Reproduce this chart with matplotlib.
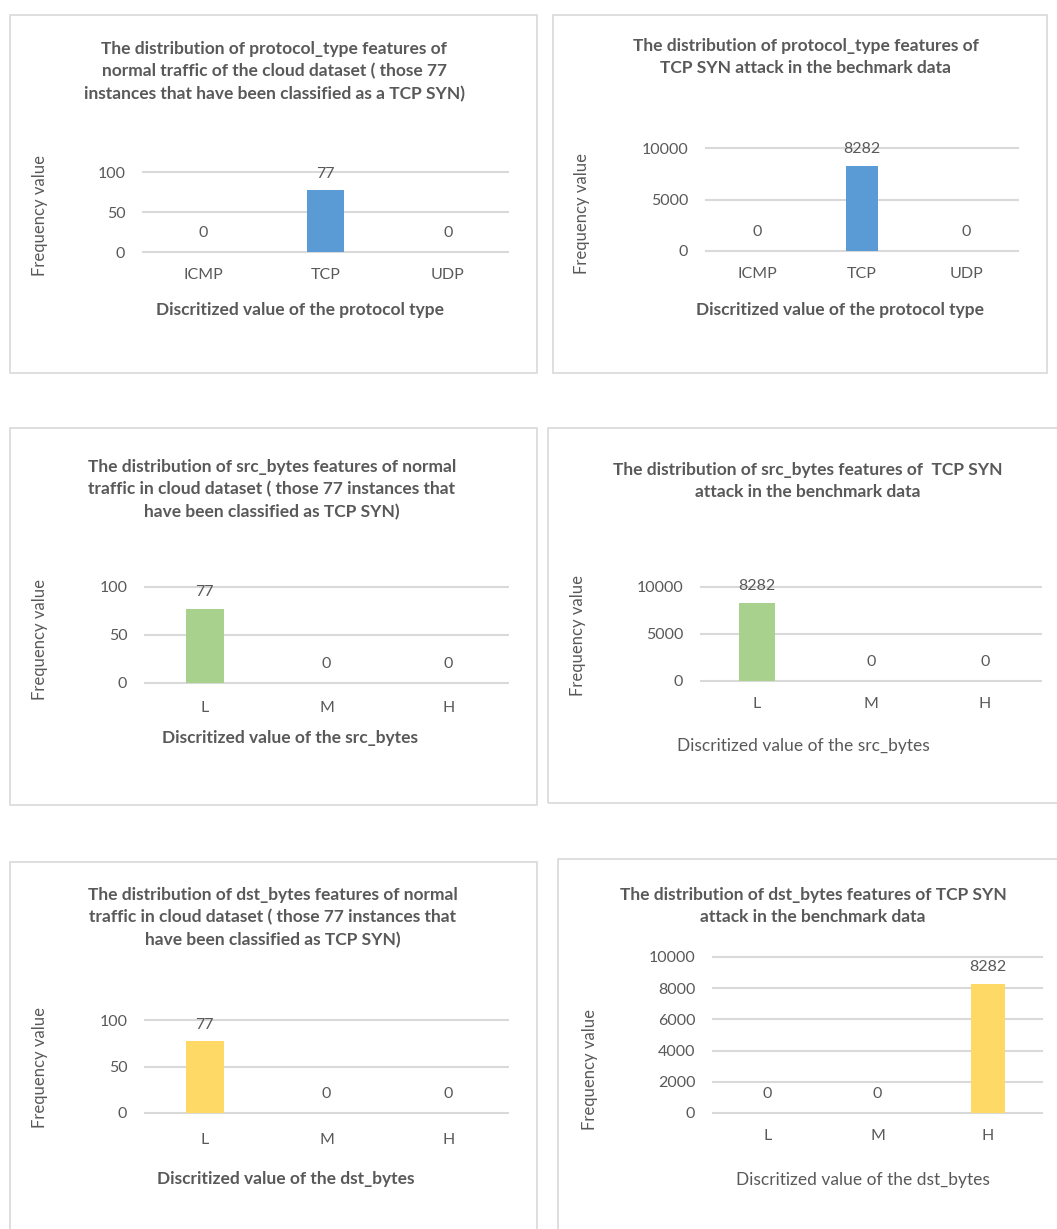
import matplotlib
matplotlib.use("Agg")
import matplotlib.pyplot as plt
from matplotlib.patches import Rectangle

# valores das seis distribuições
protocol_labels = ["ICMP", "TCP", "UDP"]
bytes_labels = ["L", "M", "H"]

cloud_protocol = [0, 77, 0]
bench_protocol = [0, 8282, 0]
cloud_src = [77, 0, 0]
bench_src = [8282, 0, 0]
cloud_dst = [77, 0, 0]
bench_dst = [0, 0, 8282]

titles = [
    "The distribution of protocol_type features of\nnormal traffic of the cloud dataset ( those 77\ninstances that have been classified as a TCP SYN)",
    "The distribution of protocol_type features of\nTCP SYN attack in the bechmark data",
    "The distribution of src_bytes features of normal\ntraffic in cloud dataset ( those 77 instances that\nhave been classified as TCP SYN)",
    "The distribution of src_bytes features of  TCP SYN\nattack in the benchmark data",
    "The distribution of dst_bytes features of normal\ntraffic in cloud dataset ( those 77 instances that\nhave been classified as TCP SYN)",
    "The distribution of dst_bytes features of TCP SYN\nattack in the benchmark data",
]
xlabels = [
    "Discritized value of the protocol type",
    "Discritized value of the protocol type",
    "Discritized value of the src_bytes",
    "Discritized value of the src_bytes",
    "Discritized value of the dst_bytes",
    "Discritized value of the dst_bytes",
]

W, H = 1057, 1229
TXT = "#595959"
GRID = "#d9d9d9"
BLUE, GREEN, YELLOW = "#5b9bd5", "#a9d18e", "#ffd966"

plt.rcParams["font.family"] = ["Lato", "DejaVu Sans"]

fig = plt.figure(figsize=(W / 100, H / 100), dpi=100)


def fx(x):
    return x / W


def fy(y):
    return 1 - y / H


# posições em pixels de cada painel:
# borda (x0, x1, y0, y1), área do gráfico (x0, x1, y_top, y_zero),
# centro do título, y do xlabel + centro, x/y do ylabel
paineis = [
    dict(box=(10, 537, 15, 373), area=(142, 509, 172, 252), title=(274, 47),
         xl=(300, 310), yl=(40, 215), ticks=[0, 50, 100], labels=protocol_labels,
         values=cloud_protocol, color=BLUE, xbold=True, tky=277),
    dict(box=(553, 1047, 15, 373), area=(705, 1019, 148, 251), title=(806, 44),
         xl=(840, 310), yl=(582, 214), ticks=[0, 5000, 10000], labels=protocol_labels,
         values=bench_protocol, color=BLUE, xbold=True, tky=277),
    dict(box=(10, 537, 428, 805), area=(144, 509, 587, 683), title=(272, 465),
         xl=(290, 738), yl=(40, 640), ticks=[0, 50, 100], labels=bytes_labels,
         values=cloud_src, color=GREEN, xbold=True, tky=710),
    dict(box=(548, 1070, 428, 803), area=(700, 1042, 587, 681), title=(808, 468),
         xl=(803, 746), yl=(578, 635), ticks=[0, 5000, 10000], labels=bytes_labels,
         values=bench_src, color=GREEN, xbold=False, tky=706),
    dict(box=(10, 537, 862, 1250), area=(144, 509, 1020, 1113), title=(273, 893),
         xl=(286, 1179), yl=(40, 1068), ticks=[0, 50, 100], labels=bytes_labels,
         values=cloud_dst, color=YELLOW, xbold=True, tky=1142),
    dict(box=(558, 1070, 859, 1250), area=(712, 1043, 957, 1113), title=(813, 893),
         xl=(863, 1180), yl=(590, 1070), ticks=[0, 2000, 4000, 6000, 8000, 10000],
         labels=bytes_labels, values=bench_dst, color=YELLOW, xbold=False, tky=1138),
]

for p, titulo, xlab in zip(paineis, titles, xlabels):
    # moldura cinza do gráfico
    bx0, bx1, by0, by1 = p["box"]
    fig.patches.append(Rectangle((fx(bx0), fy(by1)), fx(bx1 - bx0), (by1 - by0) / H,
                                 transform=fig.transFigure, fill=False,
                                 edgecolor=GRID, linewidth=1.2))

    ax0, ax1, ay0, ay1 = p["area"]
    ax = fig.add_axes([fx(ax0), fy(ay1), fx(ax1 - ax0), (ay1 - ay0) / H])
    ymax = p["ticks"][-1]
    ax.set_xlim(-0.5, 2.5)
    ax.set_ylim(0, ymax)
    ax.hlines(p["ticks"], -0.5, 2.5, colors=GRID, linewidth=1.5, clip_on=False, zorder=1)
    xs = range(len(p["values"]))
    ax.bar(xs, p["values"], width=0.31, color=p["color"], zorder=2)
    for x, v in zip(xs, p["values"]):
        ax.annotate(str(v), (x, v), xytext=(0, 7 if v else 9), textcoords="offset points",
                    ha="center", va="bottom", fontsize=11.5, color=TXT)
    for s in ax.spines.values():
        s.set_visible(False)
    ax.set_yticks(p["ticks"])
    ax.set_yticklabels([str(t) for t in p["ticks"]])
    ax.set_xticks(list(xs))
    ax.set_xticklabels(p["labels"])
    ax.tick_params(length=0, labelsize=11.5, labelcolor=TXT)
    ax.tick_params(axis="y", pad=12)
    ax.tick_params(axis="x", pad=(p["tky"] - ay1 - 9.5) * 0.72)
    ax.patch.set_visible(False)

    tx, ty = p["title"]
    fig.text(fx(tx), fy(ty - 6), titulo, ha="center", va="top", fontsize=12.5,
             fontweight="bold", color=TXT, linespacing=1.48)
    lx, ly = p["xl"]
    fig.text(fx(lx), fy(ly), xlab, ha="center", va="center", fontsize=12.5,
             fontweight="bold" if p["xbold"] else "normal", color=TXT)
    yx, yy = p["yl"]
    fig.text(fx(yx), fy(yy), "Frequency value", ha="center", va="center", rotation=90,
             fontsize=12, color=TXT)

fig.savefig("out.png", dpi=100, facecolor="white")
